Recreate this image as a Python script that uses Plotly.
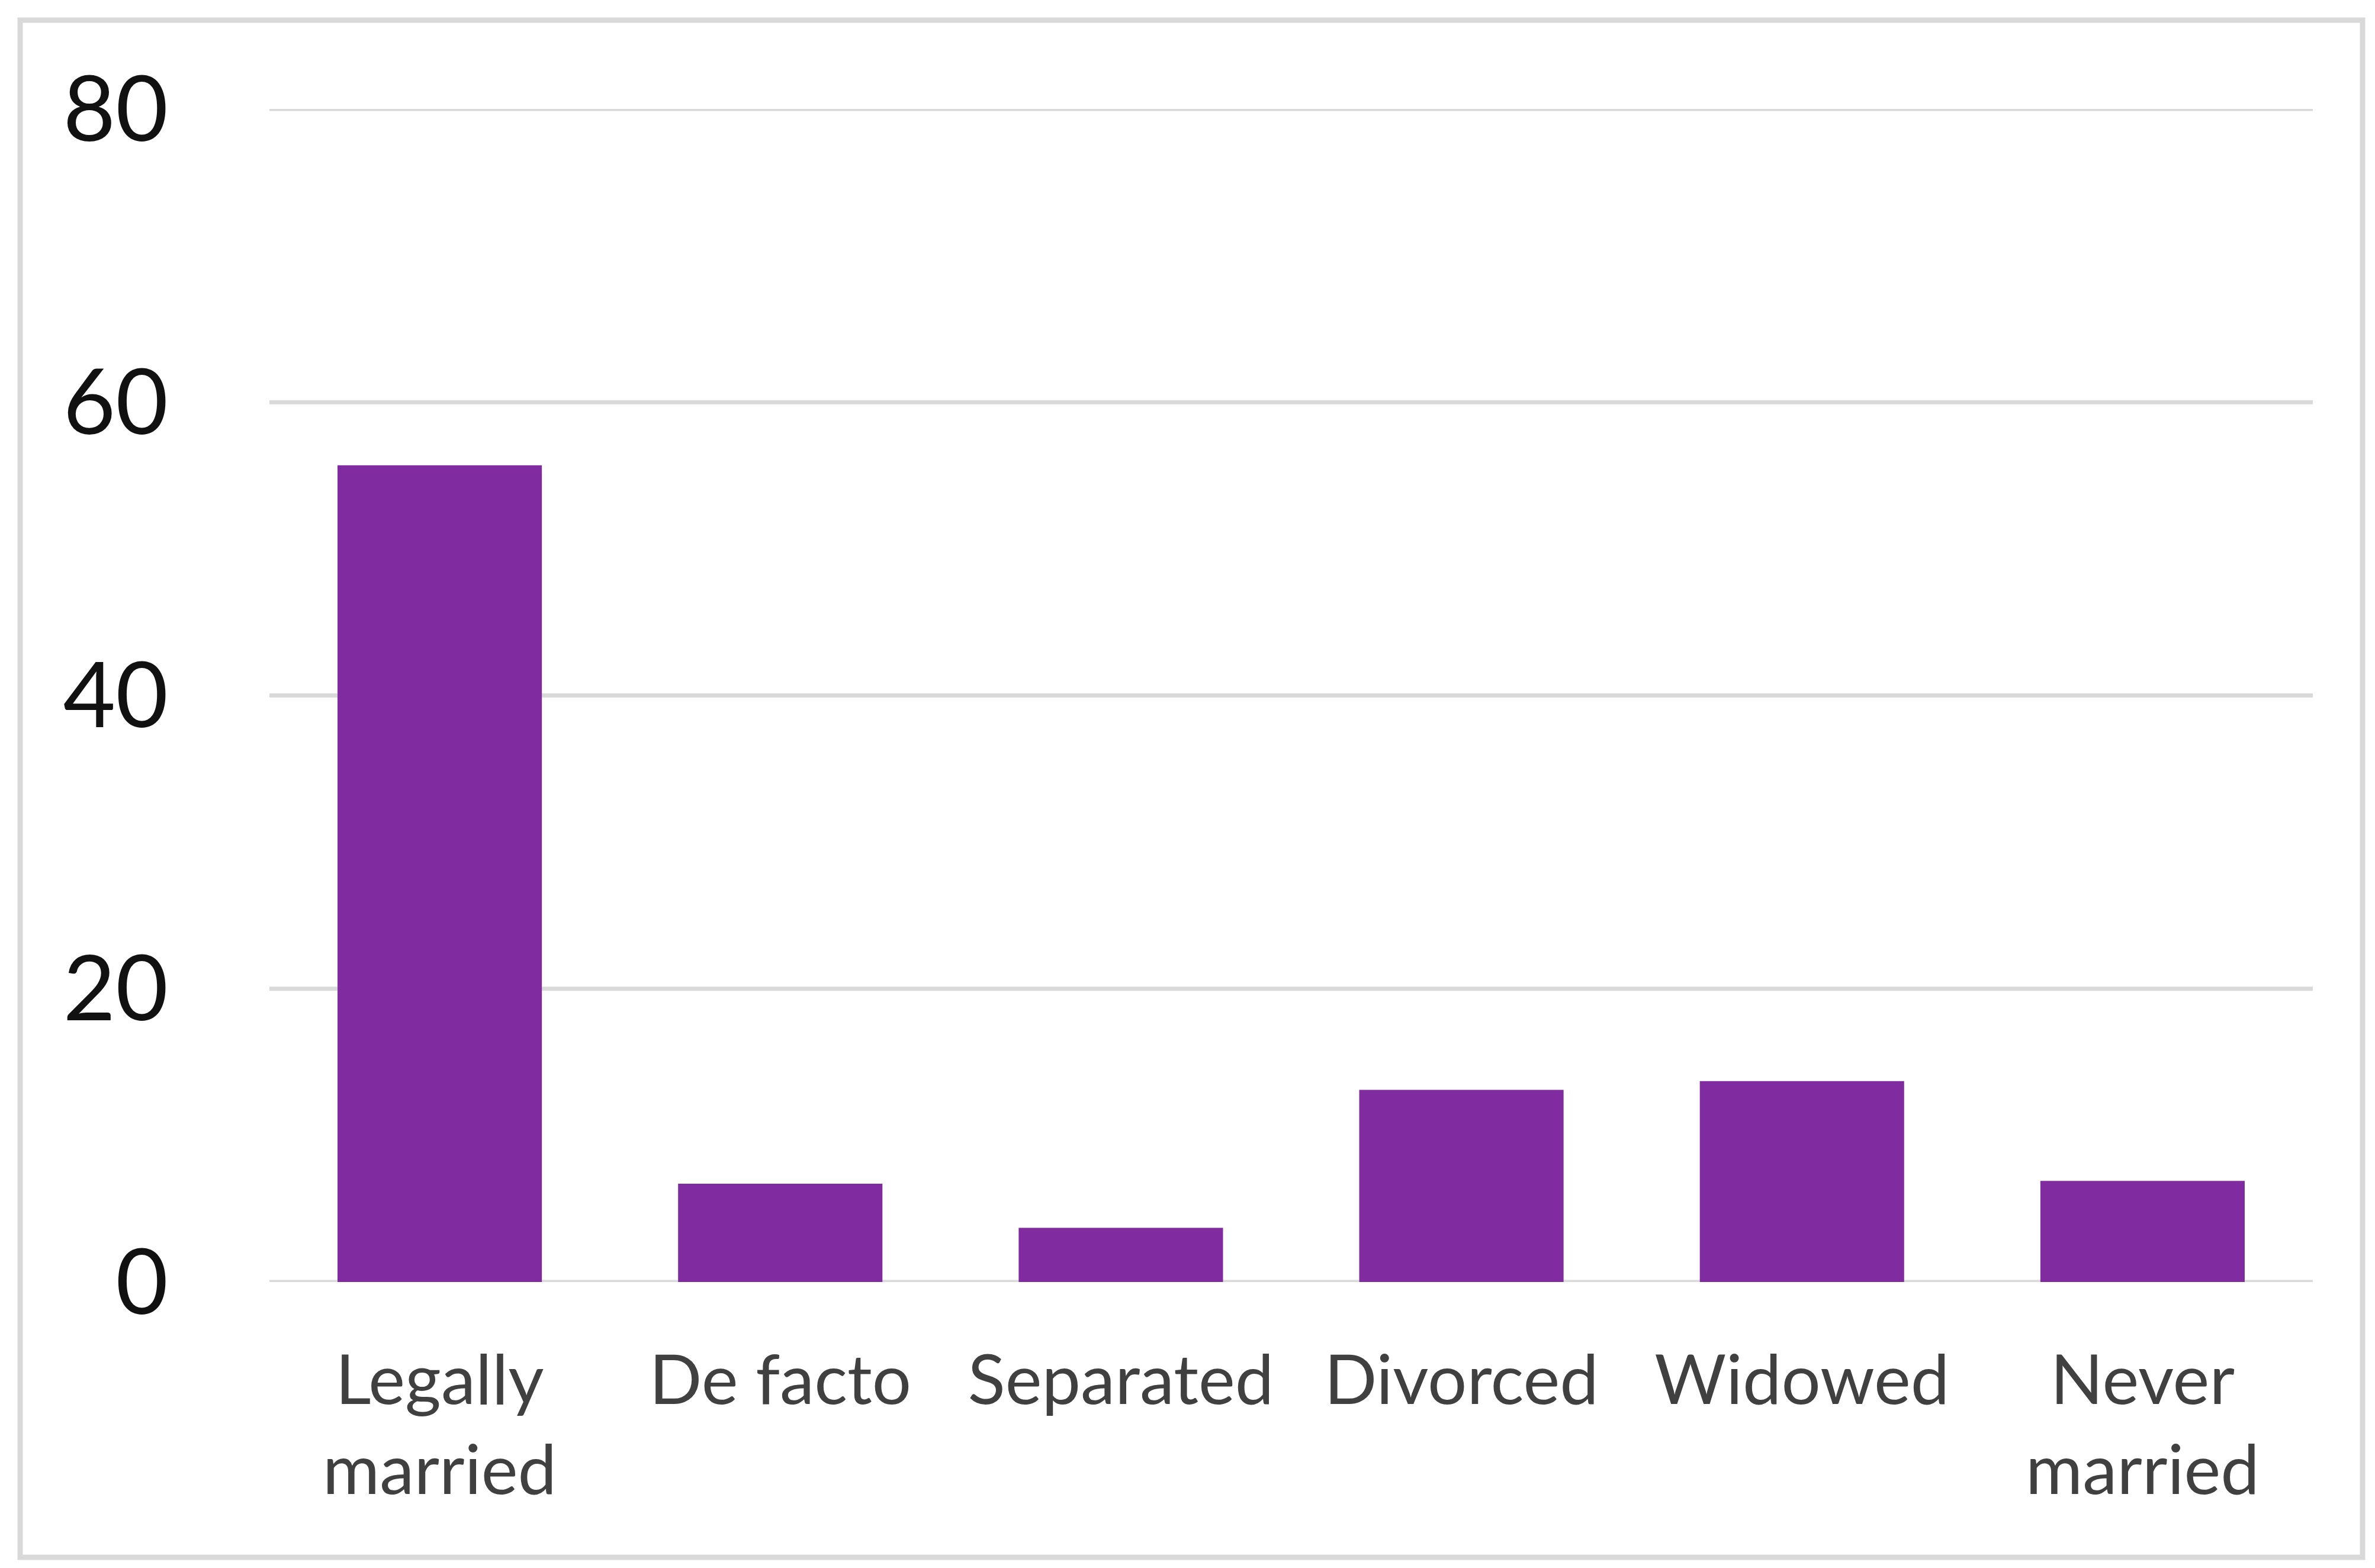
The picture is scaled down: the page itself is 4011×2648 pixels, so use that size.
import plotly.graph_objects as go

categories = ["Legally<br>married", "De facto", "Separated", "Divorced", "Widowed", "Never<br>married"]
values = [55.7, 6.7, 3.7, 13.1, 13.7, 6.9]
y_ticks = [0, 20, 40, 60, 80]

W, H = 4011, 2648
L, R, T, B = 447, 113, 176, 491
pw, ph = W - L - R, H - T - B

fig = go.Figure(go.Bar(
    x=categories, y=values,
    marker=dict(color="#802ca0", line=dict(width=0)),
))

fig.update_layout(
    width=W, height=H,
    margin=dict(l=L, r=R, t=T, b=B, autoexpand=False),
    paper_bgcolor="white", plot_bgcolor="white",
    bargap=0.4,
    showlegend=False,
    font=dict(family="Lato, Open Sans, sans-serif"),
    xaxis=dict(
        showgrid=False, showline=False, zeroline=False, ticks="",
        tickfont=dict(size=117, color="#404040"),
        ticklabelstandoff=88,
    ),
    yaxis=dict(
        range=[0, 80], tickvals=y_ticks,
        showgrid=False,
        zeroline=False, showline=False, ticks="",
        tickfont=dict(size=153, color="#111111"),
        ticklabelstandoff=170,
    ),
)

# horizontal gridlines (including 0 and 80 at the plot edges)
for v in y_ticks:
    fig.add_shape(type="line", xref="paper", yref="y", x0=0, x1=1, y0=v, y1=v,
                  line=dict(color="#d9d9d9", width=7), layer="below")

# outer chart border
x0 = (26 - L) / pw
x1 = (3982 - L) / pw
y1 = (H - B - 26) / ph
y0 = (H - B - 2622) / ph
fig.add_shape(type="rect", xref="paper", yref="paper",
              x0=x0, x1=x1, y0=y0, y1=y1,
              line=dict(color="#d9d9d9", width=9), fillcolor="rgba(0,0,0,0)", layer="below")

fig.write_html("out.html")
